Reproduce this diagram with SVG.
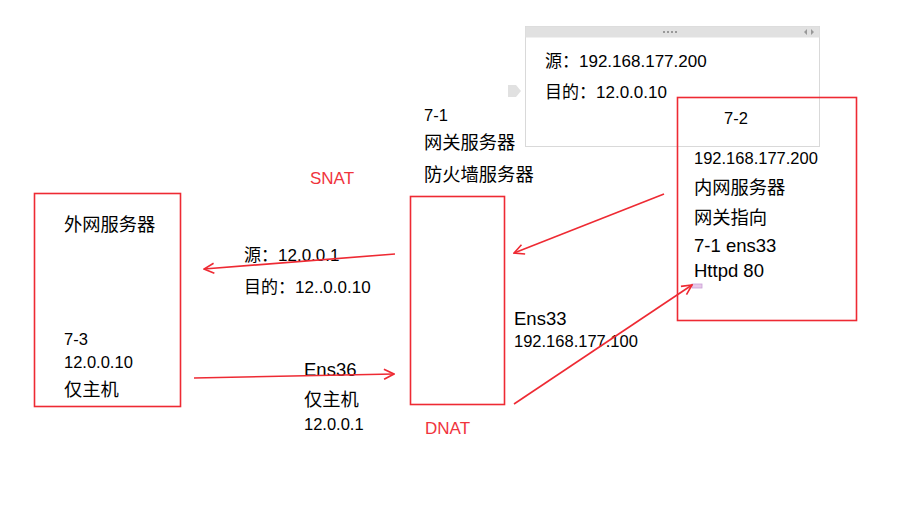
<svg xmlns="http://www.w3.org/2000/svg" width="902" height="506" viewBox="0 0 902 506">
<style>
text{font-family:"Liberation Sans","Noto Sans CJK SC",sans-serif;fill:#000}
.s{font-size:16.5px}
.m{font-size:17px}
.l{font-size:18.5px}
.c{font-size:18.3px}
.r{fill:#f0343c;font-size:17px}
.box{fill:none;stroke:#ee2a33;stroke-width:1.6}
.ln{stroke:#ee2a33;stroke-width:1.6;fill:none}
</style>
<defs>
<marker id="ah" viewBox="0 0 12 12" refX="11" refY="6" markerWidth="12" markerHeight="12" markerUnits="userSpaceOnUse" orient="auto">
<path d="M1,1 L11,6 L1,11" fill="none" stroke="#ee2a33" stroke-width="1.6"/>
</marker>
</defs>
<rect width="902" height="506" fill="#fff"/>
<g id="panel">
<rect x="525.5" y="26.5" width="294" height="120" fill="#fff" stroke="#d9d9d9"/>
<rect x="525.5" y="26.5" width="294" height="11" fill="#e1e1e1"/>
<g fill="#999"><rect x="663" y="31" width="2" height="2"/><rect x="667" y="31" width="2" height="2"/><rect x="671" y="31" width="2" height="2"/><rect x="675" y="31" width="2" height="2"/></g>
<path d="M807,29 L804,32 L807,35 Z M811,29 L814,32 L811,35 Z" fill="#999"/>
<path d="M508,85 L516,85 L521,91 L516,97 L508,97 Z" fill="#e1e1e1"/>
<text x="545" y="67" class="m">源：192.168.177.200</text>
<text x="545" y="98" class="m">目的：12.0.0.10</text>
</g>
<g id="outer">
<rect x="34.5" y="193.5" width="146" height="213" class="box"/>
<text x="64" y="231" class="c">外网服务器</text>
<text x="64" y="345" class="s">7-3</text>
<text x="64" y="368" class="s">12.0.0.10</text>
<text x="64" y="396" class="c">仅主机</text>
</g>
<g id="gateway">
<rect x="410.5" y="196.5" width="94" height="208" class="box"/>
<text x="424" y="121" class="s">7-1</text>
<text x="424" y="149" class="c">网关服务器</text>
<text x="424" y="181" class="c">防火墙服务器</text>
</g>
<g id="inner">
<rect x="677.5" y="97.5" width="179" height="223" class="box"/>
<text x="724" y="124" class="s">7-2</text>
<text x="694" y="164" class="s">192.168.177.200</text>
<text x="694" y="194" class="c">内网服务器</text>
<text x="694" y="224" class="c">网关指向</text>
<text x="694" y="252" class="l">7-1 ens33</text>
<text x="694" y="277" class="l">Httpd 80</text>
<rect x="692" y="284" width="10" height="4" fill="#e8c8e8" stroke="#c9a0d8" stroke-width="0.8"/>
</g>
<g id="labels">
<text x="310" y="184" class="r">SNAT</text>
<text x="425" y="434" class="r">DNAT</text>
<text x="244" y="261" class="m">源：12.0.0.1</text>
<text x="244" y="293" class="m">目的：12..0.0.10</text>
<text x="304" y="376" class="l">Ens36</text>
<text x="304" y="406" class="c">仅主机</text>
<text x="304" y="430" class="s">12.0.0.1</text>
<text x="514" y="325" class="l">Ens33</text>
<text x="514" y="347" class="s">192.168.177.100</text>
</g>
<g id="connectors">
<line x1="395" y1="254" x2="204" y2="269" class="ln" marker-end="url(#ah)"/>
<line x1="194" y1="378" x2="394" y2="374" class="ln" marker-end="url(#ah)"/>
<line x1="664" y1="194" x2="514" y2="253" class="ln" marker-end="url(#ah)"/>
<line x1="514" y1="404" x2="692" y2="285" class="ln" marker-end="url(#ah)"/>
</g>
</svg>
